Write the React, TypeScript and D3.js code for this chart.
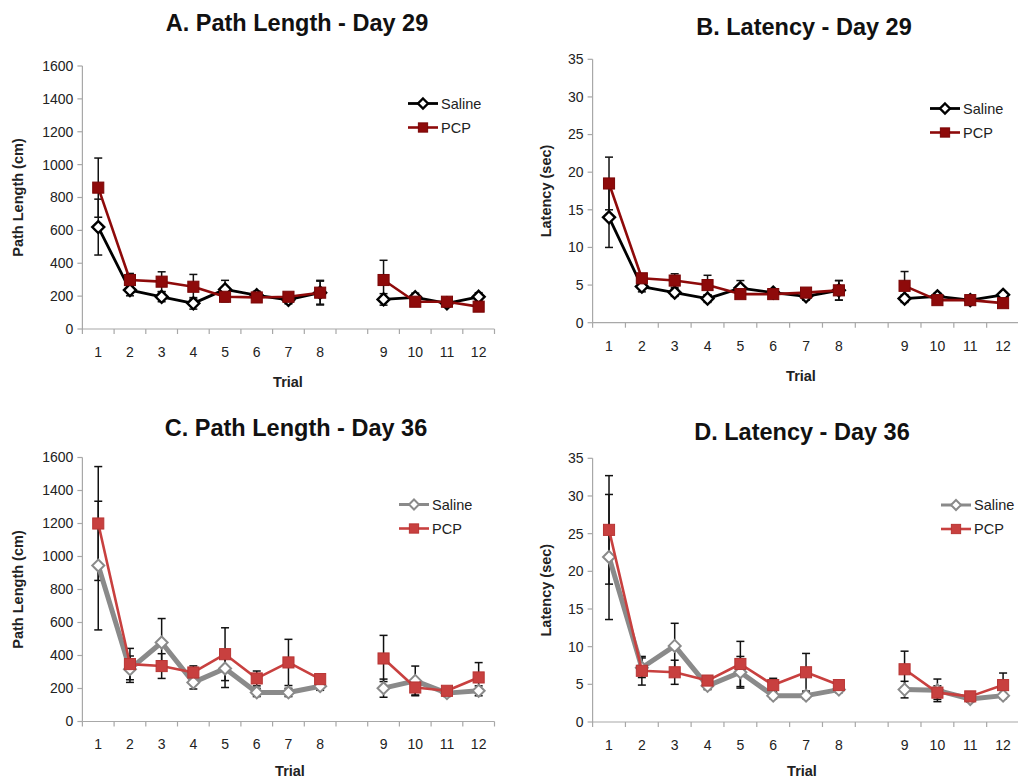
import React from "react";
import * as d3 from "d3";

// Categories on the x axis (blank slot between trial 8 and 9)
const xCategories = ["1", "2", "3", "4", "5", "6", "7", "8", "", "9", "10", "11", "12"];
const trials = ["1", "2", "3", "4", "5", "6", "7", "8", "9", "10", "11", "12"];
const seriesNames = ["Saline", "PCP"];

// Panel A: Path Length - Day 29
const salineA = [620, 237, 196, 156, 241, 205, 178, 221, 180, 193, 156, 196];
const salineAErr = [170, 35, 30, 35, 55, 25, 25, 70, 35, 25, 20, 25];
const pcpA = [860, 298, 288, 257, 196, 192, 196, 221, 298, 166, 166, 136];
const pcpAErr = [180, 40, 60, 75, 30, 25, 25, 75, 120, 25, 20, 25];

// Panel B: Latency - Day 29
const salineB = [14.0, 4.8, 4.0, 3.2, 4.6, 4.0, 3.5, 4.3, 3.2, 3.5, 3.0, 3.7];
const salineBErr = [4.0, 0.7, 0.5, 0.5, 1.0, 0.5, 0.5, 1.3, 0.5, 0.4, 0.4, 0.4];
const pcpB = [18.5, 5.9, 5.6, 5.0, 3.8, 3.8, 4.0, 4.3, 4.9, 3.0, 3.0, 2.6];
const pcpBErr = [3.5, 0.6, 0.9, 1.3, 0.5, 0.5, 0.5, 1.3, 1.9, 0.5, 0.4, 0.4];

// Panel C: Path Length - Day 36
const salineC = [945, 317, 479, 237, 321, 176, 176, 214, 202, 246, 172, 186];
const salineCErr = [390, 80, 145, 40, 115, 25, 25, 25, 55, 90, 20, 30];
const pcpC = [1200, 348, 336, 297, 408, 261, 358, 257, 382, 206, 186, 267];
const pcpCErr = [345, 95, 75, 40, 160, 45, 140, 25, 140, 45, 20, 90];

// Panel D: Latency - Day 36
const salineD = [21.9, 7.2, 10.1, 4.8, 6.6, 3.5, 3.5, 4.3, 4.3, 4.2, 3.05, 3.5];
const salineDErr = [8.3, 1.3, 3.0, 0.5, 2.1, 0.4, 0.4, 0.4, 1.1, 1.5, 0.4, 0.4];
const pcpD = [25.5, 6.8, 6.6, 5.5, 7.7, 4.9, 6.6, 4.9, 7.0, 3.9, 3.4, 4.9];
const pcpDErr = [7.2, 1.9, 1.6, 0.6, 3.0, 0.9, 2.5, 0.6, 2.4, 0.9, 0.4, 1.6];

const pathTicks = [0, 200, 400, 600, 800, 1000, 1200, 1400, 1600];
const latencyTicks = [0, 5, 10, 15, 20, 25, 30, 35];

const FONT = "'Liberation Sans', Arial, Helvetica, sans-serif";

type Style = { line: string; lineWidth: number; marker: "diamond" | "square"; fill: string; stroke: string; markerStroke: number };

const topSaline: Style = { line: "#000000", lineWidth: 2.8, marker: "diamond", fill: "#ffffff", stroke: "#000000", markerStroke: 2.4 };
const topPcp: Style = { line: "#8e0a0a", lineWidth: 2.6, marker: "square", fill: "#8e0a0a", stroke: "#7a0606", markerStroke: 1 };
const botSaline: Style = { line: "#8a8a8a", lineWidth: 5, marker: "diamond", fill: "#ffffff", stroke: "#8a8a8a", markerStroke: 2 };
const botPcp: Style = { line: "#c8403f", lineWidth: 2.6, marker: "square", fill: "#c8403f", stroke: "#b83534", markerStroke: 1 };

type PanelProps = {
  title: string; titleX: number; titleY: number;
  yLabel: string; yLabelX: number;
  ticks: number[];
  x0: number; x1: number; yBottom: number; yTop: number;
  trialOffset: number; trialX: number;
  series: { values: number[]; errs: number[]; style: Style }[];
  legendX: number; legendY: number;
};

function Marker({ x, y, style, r = 6 }: { x: number; y: number; style: Style; r?: number }) {
  if (style.marker === "diamond") {
    return <path d={`M${x},${y - r}L${x + r},${y}L${x},${y + r}L${x - r},${y}Z`} fill={style.fill} stroke={style.stroke} strokeWidth={style.markerStroke} />;
  }
  const s = r * 1.85;
  return <rect x={x - s / 2} y={y - s / 2} width={s} height={s} fill={style.fill} stroke={style.stroke} strokeWidth={style.markerStroke} />;
}

function Panel(p: PanelProps) {
  const xs = d3.scaleBand<string>().domain(xCategories).range([p.x0, p.x1]);
  const ys = d3.scaleLinear().domain([0, p.ticks[p.ticks.length - 1]]).range([p.yBottom, p.yTop]);
  const cx = (t: string) => (xs(t) as number) + xs.bandwidth() / 2;
  const line = d3.line<[number, number]>().x((d) => d[0]).y((d) => d[1]);
  const boundaries = xCategories.map((c) => xs(c) as number).concat([p.x1]);
  const axisColor = "#a8a8a8";
  const segs = [trials.slice(0, 8), trials.slice(8)];
  return (
    <g>
      <text x={p.titleX} y={p.titleY} textAnchor="middle" fontFamily={FONT} fontWeight="bold" fontSize={23.5} fill="#111">{p.title}</text>
      {/* axes */}
      <line x1={p.x0} x2={p.x0} y1={p.yBottom} y2={p.yTop} stroke={axisColor} strokeWidth={1.2} />
      {p.ticks.map((t) => (
        <g key={t}>
          <line x1={p.x0 - 5} x2={p.x0} y1={ys(t)} y2={ys(t)} stroke={axisColor} strokeWidth={1.2} />
          <text x={p.x0 - 9} y={ys(t)} dy="0.35em" textAnchor="end" fontFamily={FONT} fontSize={14} fill="#222">{t}</text>
        </g>
      ))}
      <line x1={p.x0} x2={p.x1} y1={p.yBottom} y2={p.yBottom} stroke={axisColor} strokeWidth={1.2} />
      {boundaries.map((b, i) => (
        <line key={i} x1={b} x2={b} y1={p.yBottom} y2={p.yBottom + 5} stroke={axisColor} strokeWidth={1.2} />
      ))}
      {xCategories.filter((c) => c !== "").map((c) => (
        <text key={c} x={cx(c)} y={p.yBottom + 23} dy="0.35em" textAnchor="middle" fontFamily={FONT} fontSize={14} fill="#222">{c}</text>
      ))}
      <text x={p.trialX} y={p.yBottom + p.trialOffset} dy="0.35em" textAnchor="middle" fontFamily={FONT} fontWeight="bold" fontSize={14.5} fill="#222">Trial</text>
      <text transform={`translate(${p.yLabelX},${(p.yBottom + p.yTop) / 2}) rotate(-90)`} dy="0.35em" textAnchor="middle" fontFamily={FONT} fontWeight="bold" fontSize={14.5} fill="#222">{p.yLabel}</text>
      {/* error bars */}
      {p.series.map((s, si) => (
        <g key={"e" + si}>
          {trials.map((t, i) => {
            const x = cx(t);
            const yHi = ys(s.values[i] + s.errs[i]);
            const yLo = ys(Math.max(0, s.values[i] - s.errs[i]));
            return (
              <g key={t}>
                <line x1={x} x2={x} y1={yHi} y2={yLo} stroke="#111" strokeWidth={1.5} />
                <line x1={x - 4} x2={x + 4} y1={yHi} y2={yHi} stroke="#111" strokeWidth={1.5} />
                <line x1={x - 4} x2={x + 4} y1={yLo} y2={yLo} stroke="#111" strokeWidth={1.5} />
              </g>
            );
          })}
        </g>
      ))}
      {/* lines and markers */}
      {p.series.map((s, si) => (
        <g key={"s" + si}>
          {segs.map((seg, k) => (
            <path key={k} d={line(seg.map((t) => [cx(t), ys(s.values[trials.indexOf(t)])] as [number, number])) as string} fill="none" stroke={s.style.line} strokeWidth={s.style.lineWidth} strokeLinejoin="round" />
          ))}
          {trials.map((t, i) => <Marker key={t} x={cx(t)} y={ys(s.values[i])} style={s.style} />)}
        </g>
      ))}
      {/* legend */}
      {p.series.map((s, si) => {
        const ly = p.legendY + si * 24;
        return (
          <g key={"l" + si}>
            <line x1={p.legendX} x2={p.legendX + 30} y1={ly} y2={ly} stroke={s.style.line} strokeWidth={Math.min(s.style.lineWidth, 3)} />
            <Marker x={p.legendX + 15} y={ly} style={s.style} r={5} />
            <text x={p.legendX + 33} y={ly} dy="0.35em" fontFamily={FONT} fontSize={14.5} fill="#222">{seriesNames[si]}</text>
          </g>
        );
      })}
    </g>
  );
}

export default function App() {
  return (
    <svg width={1018} height={780} style={{ position: "absolute", left: 0, top: 0, background: "#fff" }}>
      <rect width={1018} height={780} fill="#fff" />
      <Panel title="A. Path Length - Day 29" titleX={297} titleY={31}
        yLabel="Path Length (cm)" yLabelX={18} ticks={pathTicks}
        x0={82.4} x1={494.5} yBottom={329} yTop={66} trialOffset={53} trialX={288}
        series={[{ values: salineA, errs: salineAErr, style: topSaline }, { values: pcpA, errs: pcpAErr, style: topPcp }]}
        legendX={408} legendY={103.5} />
      <Panel title="B. Latency - Day 29" titleX={804} titleY={35}
        yLabel="Latency (sec)" yLabelX={546} ticks={latencyTicks}
        x0={592.6} x1={1019.5} yBottom={322.7} yTop={59.3} trialOffset={53} trialX={801}
        series={[{ values: salineB, errs: salineBErr, style: topSaline }, { values: pcpB, errs: pcpBErr, style: topPcp }]}
        legendX={930} legendY={108.5} />
      <Panel title="C. Path Length - Day 36" titleX={296} titleY={436}
        yLabel="Path Length (cm)" yLabelX={18} ticks={pathTicks}
        x0={82.4} x1={494.5} yBottom={721.5} yTop={457.5} trialOffset={49} trialX={290}
        series={[{ values: salineC, errs: salineCErr, style: botSaline }, { values: pcpC, errs: pcpCErr, style: botPcp }]}
        legendX={399} legendY={504.5} />
      <Panel title="D. Latency - Day 36" titleX={802} titleY={440}
        yLabel="Latency (sec)" yLabelX={546} ticks={latencyTicks}
        x0={592.6} x1={1019.5} yBottom={722} yTop={458.3} trialOffset={49} trialX={802}
        series={[{ values: salineD, errs: salineDErr, style: botSaline }, { values: pcpD, errs: pcpDErr, style: botPcp }]}
        legendX={941} legendY={505} />
    </svg>
  );
}
